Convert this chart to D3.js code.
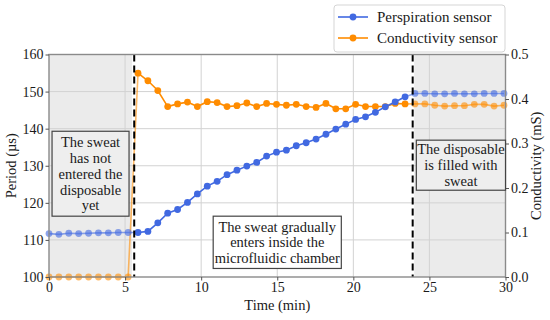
<!DOCTYPE html>
<html>
<head>
<meta charset="utf-8">
<script src="https://d3js.org/d3.v7.min.js"></script>
<style>
  body { margin: 0; background: #fff; }
</style>
</head>
<body>
<script>
// sample times (min)
const times = [0, 0.65, 1.3, 1.95, 2.6, 3.25, 3.9, 4.55, 5.2, 5.85, 6.5, 7.15, 7.8, 8.45, 9.1, 9.75,
  10.4, 11.05, 11.7, 12.35, 13, 13.65, 14.3, 14.95, 15.6, 16.25, 16.9, 17.55, 18.2, 18.85, 19.5,
  20.15, 20.8, 21.45, 22.1, 22.75, 23.4, 24.05, 24.7, 25.35, 26, 26.65, 27.3, 27.95, 28.6, 29.25, 29.9];

// perspiration sensor, period (us)
const period = [111.7, 111.5, 111.8, 111.7, 111.8, 111.9, 111.9, 112.0, 112.0,
  112.0, 112.3, 114.6, 117.2, 118.2, 120.1, 122.4, 124.5, 125.8, 127.6, 128.8, 129.9, 130.9, 132.6,
  133.65, 134.2, 135.4, 136.2, 137.2, 138.5, 139.9, 141.2, 142.5, 143.2, 144.4, 145.9, 147.2, 148.6, 149.5,
  149.5, 149.4, 149.4, 149.5, 149.4, 149.4, 149.5, 149.5, 149.5];

// conductivity sensor (mS)
const conductivity = [0, 0, 0, 0, 0, 0, 0, 0, 0,
  0.458, 0.441, 0.419, 0.383, 0.389, 0.393, 0.383, 0.394, 0.392, 0.383, 0.385, 0.391, 0.383, 0.390,
  0.388, 0.386, 0.388, 0.383, 0.381, 0.390, 0.378, 0.378, 0.388, 0.383, 0.383, 0.383, 0.390, 0.389, 0.389,
  0.389, 0.386, 0.384, 0.385, 0.385, 0.388, 0.388, 0.384, 0.386];

const xTicks = [0, 5, 10, 15, 20, 25, 30];
const periodTicks = [100, 110, 120, 130, 140, 150, 160];
const condTicks = [0.0, 0.1, 0.2, 0.3, 0.4, 0.5];

const seriesNames = ["Perspiration sensor", "Conductivity sensor"];
const annotations = [
  ["The sweat", "has not", "entered the", "disposable", "yet"],
  ["The sweat gradually", "enters inside the", "microfluidic chamber"],
  ["The disposable", "is filled with", "sweat"]
];

const width = 550, height = 320;
const blue = "#4169e1", orange = "#ff8c00";
const FONT = "Liberation Serif";

const svg = d3.select("body").append("svg")
  .attr("width", width).attr("height", height);

const x = d3.scaleLinear().domain([0, 30]).range([49, 505.5]);
const yL = d3.scaleLinear().domain([100, 160]).range([277, 54.5]);
const yR = d3.scaleLinear().domain([0, 0.5]).range([277, 54.5]);

// grey shaded phases
const spans = [[0, 5.45], [24.0, 30]];
svg.append("g").selectAll("rect").data(spans).join("rect")
  .attr("x", d => x(d[0])).attr("width", d => x(d[1]) - x(d[0]))
  .attr("y", yL(160)).attr("height", yL(100) - yL(160))
  .attr("fill", "#ebebeb");

// grid
const grid = svg.append("g").attr("stroke", "#d2d2d2").attr("stroke-width", 1);
grid.selectAll(".gx").data(xTicks.slice(1, -1)).join("line")
  .attr("x1", d => x(d)).attr("x2", d => x(d))
  .attr("y1", yL(160)).attr("y2", yL(100));
grid.selectAll(".gy").data(periodTicks.slice(1, -1)).join("line")
  .attr("y1", d => yL(d)).attr("y2", d => yL(d))
  .attr("x1", x(0)).attr("x2", x(30));

// lines + markers, grey phases drawn faded
const segs = [[0, 9, 0.6], [36, 46, 0.6], [9, 36, 1]];
const series = [
  { vals: period, y: d => yL(d), color: blue },
  { vals: conductivity, y: d => yR(d), color: orange }
];
const plot = svg.append("g");
series.slice().reverse().forEach(s => {
  const pts = times.map((t, i) => [x(t), s.y(s.vals[i])]);
  segs.forEach(([a, b, op]) => {
    const sub = pts.slice(a, b + 1);
    plot.append("path").attr("d", d3.line()(sub))
      .attr("fill", "none").attr("stroke", s.color)
      .attr("stroke-width", 1.6).attr("opacity", op);
  });
  plot.append("g").selectAll("circle").data(pts).join("circle")
    .attr("cx", d => d[0]).attr("cy", d => d[1]).attr("r", 3.4)
    .attr("fill", s.color)
    .attr("opacity", (d, i) => (i < 9 || i > 36) ? 0.6 : 1);
});

// phase boundaries
svg.append("g").selectAll("line").data([5.6, 23.9]).join("line")
  .attr("x1", d => x(d)).attr("x2", d => x(d))
  .attr("y1", yL(160)).attr("y2", yL(100))
  .attr("stroke", "#000").attr("stroke-width", 2)
  .attr("stroke-dasharray", "7,4");

// frame
svg.append("rect")
  .attr("x", x(0)).attr("y", yL(160))
  .attr("width", x(30) - x(0)).attr("height", yL(100) - yL(160))
  .attr("fill", "none").attr("stroke", "#8a8a8a").attr("stroke-width", 1.4);

// axes
function styleAxis(g) {
  g.select(".domain").remove();
  g.selectAll(".tick line").attr("stroke", "#555");
  g.selectAll(".tick text").attr("fill", "#1a1a1a")
    .style("font-family", FONT).style("font-size", "14px");
}
svg.append("g").attr("transform", `translate(0,${yL(100)})`)
  .call(d3.axisBottom(x).tickValues(xTicks).tickSize(3.5).tickPadding(2).tickFormat(d3.format("d")))
  .call(styleAxis);
svg.append("g").attr("transform", `translate(${x(0)},0)`)
  .call(d3.axisLeft(yL).tickValues(periodTicks).tickSize(3.5).tickPadding(2).tickFormat(d3.format("d")))
  .call(styleAxis);
svg.append("g").attr("transform", `translate(${x(30)},0)`)
  .call(d3.axisRight(yR).tickValues(condTicks).tickSize(3.5).tickPadding(2).tickFormat(d3.format(".1f")))
  .call(styleAxis);

// axis titles
const titles = svg.append("g").attr("fill", "#1a1a1a").attr("text-anchor", "middle");
titles.append("text").attr("x", (x(0) + x(30)) / 2).attr("y", 310).text("Time (min)");
titles.append("text").attr("transform", `translate(16,${yL(130)}) rotate(-90)`).text("Period (\u00b5s)");
titles.append("text").attr("transform", `translate(541,${yL(130)}) rotate(-90)`).text("Conductivity (mS)");
titles.selectAll("text").style("font-family", FONT).style("font-size", "14.5px");

// annotation boxes: [t0, t1, pTop, pBottom, fill]
const boxPos = [
  [0.2, 5.26, 139.3, 116.4, "#eeeeee"],
  [10.79, 19.21, 116.4, 102.3, "#ffffff"],
  [24.14, 30, 136.9, 123.4, "#eeeeee"]
];
annotations.forEach((lines, k) => {
  const [t0, t1, pT, pB, fill] = boxPos[k];
  const bx = x(t0), bw = x(t1) - x(t0), by = yL(pT), bh = yL(pB) - yL(pT);
  const g = svg.append("g");
  g.append("rect").attr("x", bx).attr("y", by).attr("width", bw).attr("height", bh)
    .attr("fill", fill).attr("stroke", "#444").attr("stroke-width", 1.2);
  const lh = 15.8, cy = by + bh / 2;
  g.selectAll("text").data(lines).join("text")
    .attr("x", bx + bw / 2)
    .attr("y", (d, i) => cy + (i - (lines.length - 1) / 2) * lh)
    .attr("dy", "0.35em").attr("text-anchor", "middle").attr("fill", "#1a1a1a")
    .style("font-family", FONT).style("font-size", "14.5px").text(d => d);
});

// legend
const leg = svg.append("g");
leg.append("rect").attr("x", 334).attr("y", 5).attr("width", 171).attr("height", 47)
  .attr("rx", 3).attr("fill", "#fff").attr("stroke", "#d5d5d5");
seriesNames.forEach((name, i) => {
  const ly = 17 + i * 21, c = i === 0 ? blue : orange;
  leg.append("line").attr("x1", 338).attr("x2", 368).attr("y1", ly).attr("y2", ly)
    .attr("stroke", c).attr("stroke-width", 1.6);
  leg.append("circle").attr("cx", 353).attr("cy", ly).attr("r", 3.4).attr("fill", c);
  leg.append("text").attr("x", 377).attr("y", ly).attr("dy", "0.35em").attr("fill", "#1a1a1a")
    .style("font-family", FONT).style("font-size", "15px").text(name);
});
</script>
</body>
</html>
